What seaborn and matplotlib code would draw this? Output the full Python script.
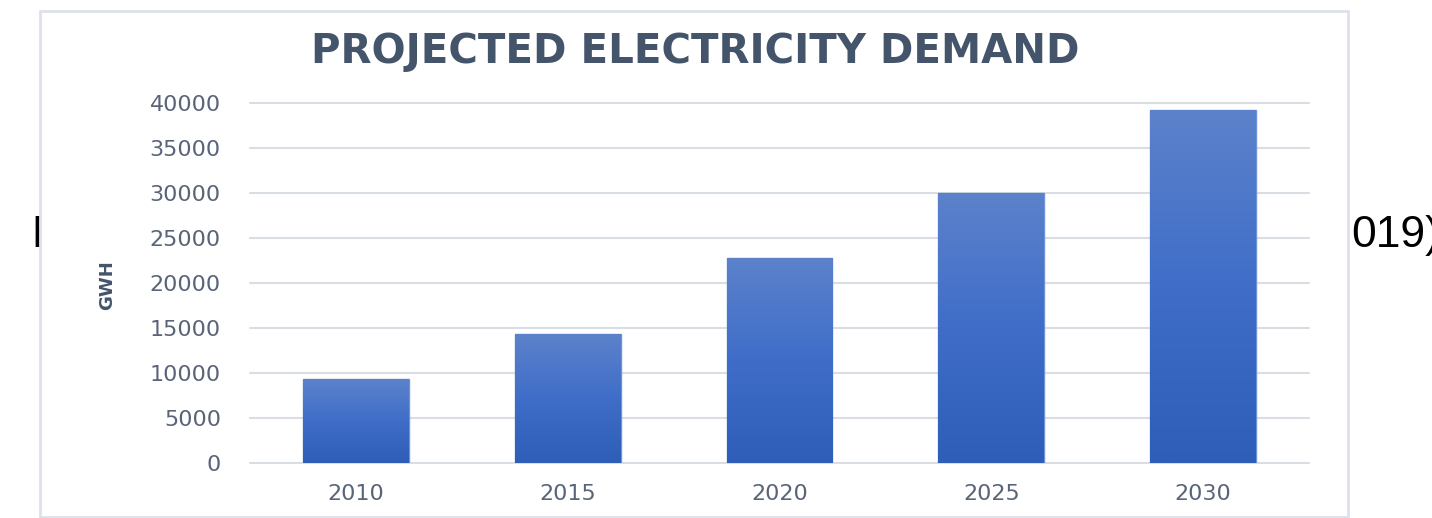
import numpy as np
import matplotlib
matplotlib.use("Agg")
import matplotlib.pyplot as plt
import seaborn as sns
from matplotlib.colors import LinearSegmentedColormap
from matplotlib.patches import Rectangle

# data
years = ["2010", "2015", "2020", "2025", "2030"]
demand_gwh = [9300, 14300, 22800, 30000, 39200]
y_ticks = [0, 5000, 10000, 15000, 20000, 25000, 30000, 35000, 40000]

W, H = 1432, 518

sns.set_theme(style="white")
plt.rcParams["font.family"] = ["DejaVu Sans"]

fig = plt.figure(figsize=(W / 100, H / 100), dpi=100)
fig.patch.set_facecolor("white")

# slide text partly hidden behind the chart box
fig.text(31 / W, 1 - 247 / H, "E", fontsize=32, color="black",
         family=["Liberation Sans", "DejaVu Sans"], va="baseline", ha="left", zorder=0)
fig.text(1351 / W, 1 - 247 / H, "019)", fontsize=32, color="black",
         family=["Liberation Sans", "DejaVu Sans"], va="baseline", ha="left", zorder=0)

# chart area box
box = Rectangle((40 / W, 1 - 517 / H), (1348 - 40) / W, (517 - 11) / H,
                transform=fig.transFigure, facecolor="white",
                edgecolor="#dde2ea", linewidth=2, zorder=0.5)
fig.add_artist(box)

ax = fig.add_axes([250 / W, 1 - 463 / H, (1309 - 250) / W, (463 - 103) / H])
ax.set_zorder(1)
ax.patch.set_alpha(0)

sns.barplot(x=years, y=demand_gwh, ax=ax, width=0.5, color="#3f6fc6",
            edgecolor="#7094d8", linewidth=1)

# vertical gradient on each bar (dark at bottom, lighter at top)
cmap = LinearSegmentedColormap.from_list("bar_grad", ["#2e5eb8", "#3f6dc8", "#5c82cb"])
grad = np.linspace(0, 1, 256).reshape(-1, 1)
for p in ax.patches:
    x0, y0 = p.get_x(), p.get_y()
    x1, y1 = x0 + p.get_width(), y0 + p.get_height()
    im = ax.imshow(grad, extent=[x0, x1, y0, y1], origin="lower", aspect="auto",
                   cmap=cmap, zorder=p.get_zorder() + 0.1)
    im.set_clip_path(p)

ax.set_xlim(-0.5, len(years) - 0.5)
ax.set_ylim(0, 40000)
ax.set_yticks(y_ticks)
ax.set_yticklabels([str(v) for v in y_ticks])

ax.yaxis.grid(True, color="#d9dde4", linewidth=1.5)
ax.set_axisbelow(True)
for gl in ax.get_ygridlines():
    gl.set_clip_on(False)
for s in ax.spines.values():
    s.set_visible(False)

tick_col = "#5a6478"
ax.tick_params(axis="y", length=0, pad=21, labelsize=16, labelcolor=tick_col)
ax.tick_params(axis="x", length=0, pad=15, labelsize=16, labelcolor=tick_col)
ax.set_xlabel("")
ax.set_ylabel("")

fig.text(107 / W, 1 - 285 / H, "GWH", rotation=90, fontsize=13, fontweight="bold",
         color="#44546a", ha="center", va="center", zorder=2)

fig.text(695 / W, 1 - 52 / H, "PROJECTED ELECTRICITY DEMAND", fontsize=29,
         fontweight="bold", color="#44546a", ha="center", va="center", zorder=2)

fig.savefig("out.png", dpi=100, facecolor="white")
plt.close(fig)
